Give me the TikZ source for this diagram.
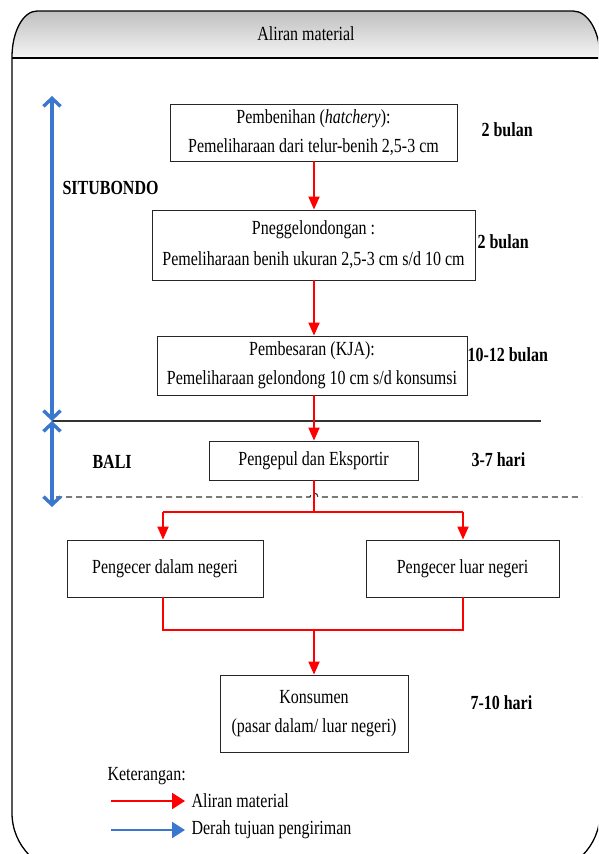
\documentclass[tikz,border=0pt]{standalone}
\usepackage{fontspec}
\setmainfont{Liberation Serif}[FakeStretch=0.8]
\usetikzlibrary{arrows.meta}
\definecolor{blueC}{HTML}{3A78D0}
\definecolor{lineC}{HTML}{333333}

\begin{document}
\begin{tikzpicture}[x=1pt,y=1pt,
  every node/.style={font=\fontsize{20}{29}\selectfont},
  box/.style={draw=black!85, line width=0.9pt, fill=white, inner sep=0pt, align=center},
  flow/.style={red, line width=2pt, -{Triangle[length=13pt,width=11pt]}},
  flowline/.style={red, line width=2pt},
  region/.style={blueC, line width=3.4pt,
    {Straight Barb[length=8pt,width=17pt]}-{Straight Barb[length=8pt,width=17pt]}},
  dur/.style={font=\fontsize{20}{29}\selectfont\bfseries, anchor=west},
  frame/.style={black, line width=1.3pt},
]
\useasboundingbox (0,0) rectangle (598,-854);

% header band with gradient
\shade[top color=gray!50, bottom color=gray!8]
  (12,-58) -- (12,-57) arc[start angle=180,end angle=90,x radius=25,y radius=46]
  -- (573,-11) arc[start angle=90,end angle=0,x radius=27,y radius=46]
  -- (600,-58) -- cycle;

% outer frame
\begin{scope}
\clip (0,0) rectangle (598,-854);
\draw[frame] (12,-57) arc[start angle=180,end angle=90,x radius=25,y radius=46]
  -- (573,-11) arc[start angle=90,end angle=0,x radius=27,y radius=46]
  -- (600,-813) arc[start angle=0,end angle=-90,radius=60]
  -- (72,-873) arc[start angle=270,end angle=180,radius=60] -- cycle;
\draw[black, line width=1.8pt] (12,-58) -- (600,-58);
\end{scope}

\node (title) at (306,-34) {Aliran material};

% boxes
\node[box, minimum width=287pt, minimum height=57pt] (b1) at (313.5,-132.5)
  {Pembenihan (\textit{hatchery}):\\Pemeliharaan dari telur-benih 2,5-3 cm};
\node[box, minimum width=323pt, minimum height=70pt] (b2) at (313.5,-245)
  {Pneggelondongan :\\[2pt]Pemeliharaan benih ukuran 2,5-3 cm s/d 10 cm};
\node[box, minimum width=310pt, minimum height=59pt] (b3) at (312,-365.5)
  {Pembesaran (KJA):\\Pemeliharaan gelondong 10 cm s/d konsumsi};
\node[box, minimum width=209pt, minimum height=39pt] (b4) at (313.5,-460.5)
  {Pengepul dan Eksportir};
\node[box, minimum width=196pt, minimum height=57pt] (b5) at (165,-568.5)
  {Pengecer dalam negeri};
\node[box, minimum width=193pt, minimum height=57pt] (b6) at (462.5,-568.5)
  {Pengecer luar negeri};
\node[box, minimum width=188pt, minimum height=77pt] (b7) at (314,-713.5)
  {Konsumen\\(pasar dalam/ luar negeri)};

% durations and regions
\node[dur] (d1) at (478,-130) {2 bulan};
\node[dur] (d2) at (474,-242) {2 bulan};
\node[dur] (d3) at (464,-355) {10-12 bulan};
\node[dur] (d4) at (468,-460) {3-7 hari};
\node[dur] (d5) at (467,-703) {7-10 hari};
\node[dur] (sit) at (59,-188) {SITUBONDO};
\node[dur] (bali) at (89,-462) {BALI};

% region separators
\coordinate (sepL) at (52,-421);
\coordinate (sepR) at (541,-421);
\draw[lineC, line width=1.1pt] (sepL) -- (sepR);
\coordinate (dashL) at (56,-497);
\coordinate (dashR) at (582,-497);
\draw[lineC, line width=1.1pt, dash pattern=on 6pt off 4pt]
  (dashL) -- (310,-497) arc[start angle=180,end angle=0,radius=4] -- (dashR);

% region arrows
\coordinate (rTop) at (52,-96);
\coordinate (rMid) at (52,-421);
\coordinate (rBot) at (52,-507);
\draw[region] (rTop) -- (rMid);
\draw[region] (rMid) -- (rBot);

% material flow
\draw[flow] (b1.south -| 314,0) -- (b2.north -| 314,0);
\draw[flow] (b2.south -| 314,0) -- (b3.north -| 314,0);
\draw[flow] (b3.south -| 314,0) -- (b4.north -| 314,0);
\coordinate (split) at (314,-512);
\coordinate (splitL) at (163,-512);
\coordinate (splitR) at (463,-512);
\draw[flowline] (b4.south -| split) -- (split);
\draw[flowline] (splitL) -- (splitR);
\draw[flow] (splitL) -- (b5.north -| splitL);
\draw[flow] (splitR) -- (b6.north -| splitR);
\coordinate (joinL) at (163,-630);
\coordinate (joinR) at (463,-630);
\coordinate (join) at (314,-630);
\draw[flowline] (b5.south -| joinL) -- (joinL) -- (joinR) -- (b6.south -| joinR);
\draw[flow] (join) -- (b7.north -| join);

% legend
\node[anchor=west] (ket) at (104,-776) {Keterangan:};
\coordinate (l1a) at (111,-801);
\coordinate (l1b) at (185,-801);
\coordinate (l2a) at (111,-830);
\coordinate (l2b) at (185,-830);
\draw[red, line width=2.2pt, -{Triangle[length=13pt,width=16pt]}] (l1a) -- (l1b);
\draw[blueC, line width=2.2pt, -{Triangle[length=13pt,width=16pt]}] (l2a) -- (l2b);
\node[anchor=west] (lt1) at (188,-801) {Aliran material};
\node[anchor=west] (lt2) at (188,-830) {Derah tujuan pengiriman};
\end{tikzpicture}
\end{document}
